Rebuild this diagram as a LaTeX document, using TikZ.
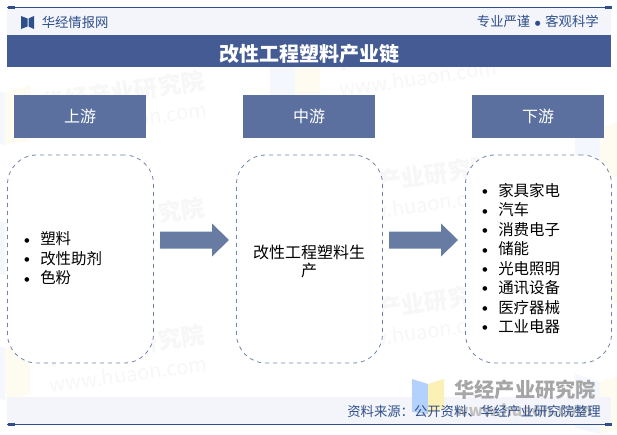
\documentclass[tikz,border=0pt]{standalone}
\usepackage{fontspec}
\setmainfont{Noto Sans CJK SC}
\definecolor{bandblue}{HTML}{445C93}
\definecolor{headblue}{HTML}{5B709E}
\definecolor{linkblue}{HTML}{2F4F8B}
\definecolor{paleband}{HTML}{F3F5FA}
\definecolor{arrowblue}{HTML}{687CA3}
\definecolor{dashblue}{HTML}{7184AB}
\definecolor{wmgrey}{HTML}{F7F7F7}
\definecolor{wmblue}{HTML}{F4F8FE}
\definecolor{wmyellow}{HTML}{FEFCF1}
\definecolor{logoblue}{HTML}{B3D1FC}
\definecolor{logoyellow}{HTML}{FBF0B5}
\definecolor{logogrey}{HTML}{A6A6A6}
\newfontfamily\dejavu{DejaVu Sans}
\newcommand{\bul}[1]{\hbox to 12pt{{\dejavu\fontsize{4.5}{4.5}\selectfont\raisebox{2pt}{●}}\hfil}#1}
\tikzset{
  x=0.75pt,y=-0.75pt,
  headbox/.style={fill=headblue,text=white,minimum width=99pt,minimum height=32.25pt,inner sep=0pt,font=\fontsize{12}{12}\selectfont},
  roundbox/.style={draw=dashblue,dashed,line width=0.6pt,fill=white,rounded corners=22pt,minimum width=109.5pt,minimum height=156pt,inner sep=0pt},
  listtext/.style={font=\fontsize{11.6}{14.6}\selectfont,align=left,text=black,inner sep=0pt},
  wm/.style={text=wmgrey,font=\fontsize{17.6}{18}\bfseries\selectfont,rotate=8},
  wmurl/.style={text=wmgrey,font=\fontsize{15}{15}\selectfont,rotate=8},
  navy/.style={text=linkblue,font=\fontsize{10}{10}\selectfont,inner sep=0pt}
}
\begin{document}
\begin{tikzpicture}
\useasboundingbox (0,0) rectangle (617,435);
\fill[white] (0,0) rectangle (617,435);
% pale background logos
\foreach \lx/\ly in {5/115,5/245,5/370,295/85,600/150,600/277,600/404}{
  \fill[wmblue] (\lx-25,\ly-30) -- (\lx,\ly-22) -- (\lx,\ly+30) -- (\lx-25,\ly+24) -- cycle;
  \fill[wmyellow] (\lx+25,\ly-30) -- (\lx,\ly-22) -- (\lx,\ly+30) -- (\lx+25,\ly+24) -- cycle;
}
% watermarks
\foreach \wx/\wy in {123/92,123/219,123/346,413/50,413/177,413/304}{
  \node[wm] at (\wx,\wy) {华经产业研究院};
  \node[wmurl] at (\wx+5,\wy+28) {www.huaon.com};
}
% bands
\fill[paleband] (7,7) rectangle (611,35);
\fill[paleband] (7,397) rectangle (611,425);
\fill[bandblue] (7,35) rectangle (611,67);
\draw[linkblue,line width=0.75pt] (7,7.3) -- (612,7.3);
\draw[linkblue,line width=0.75pt] (7,424.5) -- (612,424.5);
\fill[linkblue] (7.5,6) rectangle (15,9);
\fill[linkblue] (604.5,6) rectangle (612,9);
\fill[linkblue] (7.5,423) rectangle (15,426);
\fill[linkblue] (604.5,423) rectangle (612,426);
% top labels
\fill[linkblue] (21,16) -- (27.5,18.5) -- (27.5,26.5) -- (21,29) -- cycle;
\fill[linkblue] (34,16) -- (28.5,18.5) -- (28.5,26.5) -- (34,29) -- cycle;
\node[navy,anchor=west] (brand) at (41.5,22) {华经情报网};
\node[navy,anchor=east] (motto) at (599,21.5) {专业严谨\hspace{3.5pt}{\dejavu\fontsize{5}{5}\selectfont\raisebox{1pt}{●}}\hspace{3.5pt}客观科学};
\node[text=white,font=\fontsize{15}{15}\bfseries\selectfont,inner sep=0pt] (title) at (309.5,53.5) {改性工程塑料产业链};
% header boxes
\node[headbox] (up) at (80,116.5) {上游};
\node[headbox] (mid) at (309,116.5) {中游};
\node[headbox] (down) at (538,116.5) {下游};
% main boxes
\node[roundbox] (upbox) at (80.5,259) {};
\node[roundbox] (midbox) at (309.5,259) {};
\node[roundbox] (downbox) at (538.5,259) {};
% lists
\node[listtext,anchor=west] (uplist) at (24,258.5) {\bul{塑料}\\\bul{改性助剂}\\\bul{色粉}};
\node[listtext,align=center,font=\fontsize{12}{13.5}\selectfont] (midtext) at (309,261) {改性工程塑料生\\产};
\node[listtext,anchor=west] (downlist) at (482,258.5) {\bul{家具家电}\\\bul{汽车}\\\bul{消费电子}\\\bul{储能}\\\bul{光电照明}\\\bul{通讯设备}\\\bul{医疗器械}\\\bul{工业电器}};
% arrows
\fill[arrowblue] (160,231.5) -- (212,231.5) -- (212,223.5) -- (229,240) -- (212,256.5) -- (212,248.5) -- (160,248.5) -- cycle;
\fill[arrowblue] (389,231.5) -- (441,231.5) -- (441,223.5) -- (458,240) -- (441,256.5) -- (441,248.5) -- (389,248.5) -- cycle;
% logo and source
\fill[logoblue] (412,379) -- (428,384) -- (428,414) -- (412,412) -- cycle;
\fill[logoyellow] (444,379) -- (428,384) -- (428,414) -- (444,408) -- cycle;
\node[text=logogrey,font=\fontsize{15.2}{15}\bfseries\selectfont,anchor=west,inner sep=0pt] (logotext) at (454,390) {华经产业研究院};
\node[text=logogrey!70,font=\fontsize{12}{12}\bfseries\selectfont,anchor=west,inner sep=0pt] (logourl) at (454,410) {www.huaon.com};
\node[navy,anchor=east] (source) at (601,411) {资料来源：公开资料、华经产业研究院整理};
\end{tikzpicture}
\end{document}
